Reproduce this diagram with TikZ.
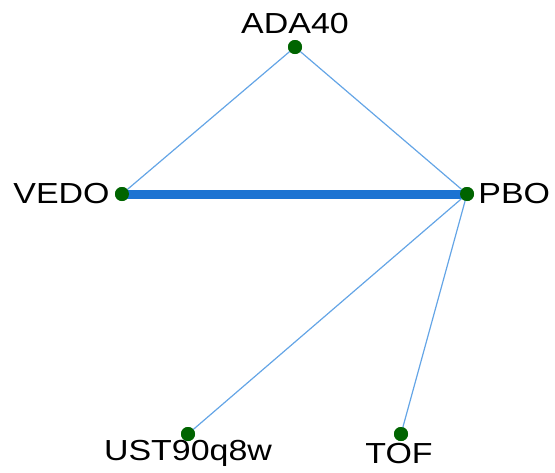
\documentclass[tikz,border=0pt]{standalone}
\usepackage{fontspec}
\setmainfont{Liberation Sans}
\usetikzlibrary{positioning}
\definecolor{dotgreen}{RGB}{0,100,0}
\definecolor{edgeblue}{RGB}{100,165,230}
\definecolor{heavyblue}{RGB}{28,115,210}

\begin{document}
\begin{tikzpicture}[
    x=1pt, y=-1pt,
    vertex/.style={circle, fill=dotgreen, inner sep=0pt, minimum size=14pt},
    lbl/.style={font=\fontsize{29}{30}\selectfont, inner sep=1pt, xscale=1.17},
    link/.style={draw=edgeblue, line width=1.2pt},
    strong/.style={draw=heavyblue, line width=9pt}
]
\useasboundingbox (0,0) rectangle (555,472);

% Vertices
\node[vertex] (ada) at (295,47) {};
\node[vertex] (vedo) at (122,194) {};
\node[vertex] (pbo) at (467,194) {};
\node[vertex] (ust) at (188,434) {};
\node[vertex] (tof) at (401,434) {};

% Edges
\begin{scope}[on background layer/.try]
\draw[strong] (vedo.center) -- (pbo.center);
\draw[link] (ada.center) -- (vedo.center);
\draw[link] (ada.center) -- (pbo.center);
\draw[link] (pbo.center) -- (ust.center);
\draw[link] (pbo.center) -- (tof.center);
\end{scope}

% Vertices again, on top of the edges
\foreach \v in {ada,vedo,pbo,ust,tof}
  \fill[dotgreen] (\v) circle (7pt);

% Labels
\node[lbl] (adalbl) at (295,23.5) {ADA40};
\node[lbl, anchor=east] (vedolbl) at (111,194) {VEDO};
\node[lbl, anchor=west] (pbolbl) at (477,194) {PBO};
\node[lbl] (ustlbl) at (188,453.5) {UST90q8w};
\node[lbl] (toflbl) at (399,453.5) {TOF};

\end{tikzpicture}
\end{document}
